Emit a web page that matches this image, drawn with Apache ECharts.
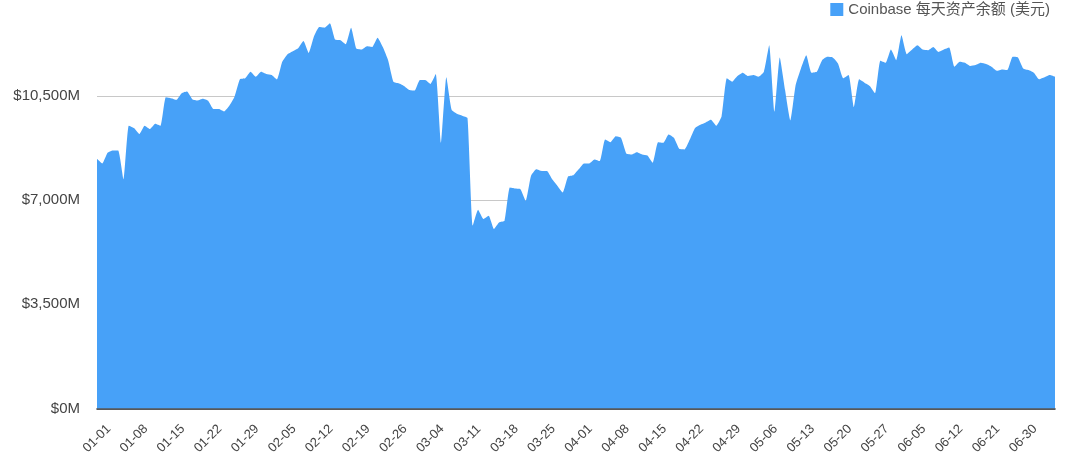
<!DOCTYPE html>
<html>
<head>
<meta charset="utf-8">
<script src="https://cdn.jsdelivr.net/npm/echarts@6/dist/echarts.min.js"></script>
<style>
html,body{margin:0;padding:0;background:#fff;}
#chart{width:1080px;height:457px;}
</style>
</head>
<body>
<div id="chart"></div>
<script>
var seriesName = 'Coinbase 每天资产余额 (美元)';

var categories = [
  '01-01','01-02','01-03','01-04','01-05','01-06','01-07','01-08','01-09','01-10','01-11','01-12','01-13','01-14','01-15','01-16',
  '01-17','01-18','01-19','01-20','01-21','01-22','01-23','01-24','01-25','01-26','01-27','01-28','01-29','01-30','01-31',
  '02-01','02-02','02-03','02-04','02-05','02-06','02-07','02-08','02-09','02-10','02-11','02-12','02-13','02-14','02-15',
  '02-16','02-17','02-18','02-19','02-20','02-21','02-22','02-23','02-24','02-25','02-26','02-27','02-28','02-29',
  '03-01','03-02','03-03','03-04','03-05','03-06','03-07','03-08','03-09','03-10','03-11','03-12','03-13','03-14','03-15',
  '03-16','03-17','03-18','03-19','03-20','03-21','03-22','03-23','03-24','03-25','03-26','03-27','03-28','03-29','03-30','03-31',
  '04-01','04-02','04-03','04-04','04-05','04-06','04-07','04-08','04-09','04-10','04-11','04-12','04-13','04-14','04-15',
  '04-16','04-17','04-18','04-19','04-20','04-21','04-22','04-23','04-24','04-25','04-26','04-27','04-28','04-29','04-30',
  '05-01','05-02','05-03','05-04','05-05','05-06','05-07','05-08','05-09','05-10','05-11','05-12','05-13','05-14','05-15',
  '05-16','05-17','05-18','05-19','05-20','05-21','05-22','05-23','05-24','05-25','05-26','05-27','05-28','05-29',
  '06-01','06-02','06-03','06-04','06-05','06-06','06-07','06-08','06-09','06-10','06-11','06-12',
  '06-15','06-16','06-17','06-18','06-19','06-20','06-21','06-22','06-23','06-24','06-25','06-26','06-29','06-30',
  '07-01','07-02','07-03','07-04','07-05','07-06'
];

// daily balance, millions of USD
var balances = [
  8390, 8233, 8590, 8667, 8667, 7700, 9500, 9420, 9220, 9500, 9390, 9567, 9500, 10456, 10422, 10367,
  10590, 10644, 10390, 10344, 10400, 10333, 10056, 10056, 9978, 10167, 10478, 11056, 11090, 11310, 11143,
  11310, 11233, 11200, 11050, 11643, 11900, 12000, 12100, 12343, 11943, 12500, 12810, 12790, 12943,
  12390, 12367, 12233, 12790, 12090, 12056, 12167, 12143, 12456, 12143, 11700, 10977, 10922, 10833, 10700,
  10677, 11033, 11033, 10900, 11233, 8922, 11122, 10033, 9900, 9833, 9756, 6143, 6677, 6367, 6477,
  6033, 6256, 6310, 7423, 7390, 7367, 6977, 7810, 8033, 7977, 7977, 7700, 7477, 7256, 7790, 7833,
  8033, 8233, 8233, 8367, 8310, 9033, 8943, 9143, 9090, 8567, 8533, 8610, 8533, 8500, 8256,
  8943, 8922, 9200, 9090, 8722, 8700, 9033, 9422, 9533, 9610, 9700, 9500, 9810, 11090, 10977,
  11167, 11277, 11167, 11200, 11143, 11310, 12200, 9978, 11790, 10700, 9678, 10867, 11423, 11867, 11277,
  11310, 11700, 11810, 11790, 11590, 11090, 11200, 10122, 11056, 10944, 10833, 10590, 11677, 11610,
  12056, 11700, 12533, 11900, 12056, 12200, 12056, 12033, 12143, 11977, 12056, 12123,
  11477, 11643, 11610, 11500, 11533, 11610, 11567, 11477, 11343, 11390, 11367, 11810, 11790, 11423,
  11367, 11277, 11056, 11122, 11200, 11143
];

var yTicks = [0, 3500, 7000, 10500];
var yMax = 13720;

var chart = echarts.init(document.getElementById('chart'), null, {renderer: 'canvas'});
chart.setOption({
  animation: false,
  backgroundColor: '#ffffff',
  color: ['#47A1F8'],
  textStyle: {fontFamily: 'Liberation Sans, Arial, Noto Sans CJK SC, sans-serif'},
  legend: {
    data: [{name: seriesName, icon: 'rect'}],
    right: 30,
    top: 2,
    padding: 0,
    itemWidth: 13,
    itemHeight: 13,
    itemGap: 10,
    textStyle: {fontSize: 15, color: '#555', fontFamily: 'Liberation Sans, Arial, Noto Sans CJK SC, sans-serif'}
  },
  grid: {left: 97, right: 25, top: 0, bottom: 44, containLabel: false},
  xAxis: {
    type: 'category',
    data: categories,
    boundaryGap: false,
    axisLine: {show: true, lineStyle: {color: '#222', width: 1.5}},
    axisTick: {show: false},
    splitLine: {show: false},
    axisLabel: {
      interval: 6,
      rotate: 45,
      align: 'center',
      verticalAlign: 'middle',
      margin: 30,
      fontSize: 13,
      color: '#444'
    }
  },
  yAxis: {
    type: 'value',
    min: 0,
    max: yMax,
    interval: 3500,
    axisLine: {show: false},
    axisTick: {show: false},
    splitLine: {show: true, showMaxLine: false, showMinLine: false, lineStyle: {color: '#c8c8c8', width: 1}},
    axisLabel: {
      margin: 17,
      fontSize: 15,
      color: '#444',
      showMaxLabel: false,
      formatter: function (v) {
        if (yTicks.indexOf(v) < 0) return '';
        return '$' + v.toLocaleString('en-US') + 'M';
      }
    }
  },
  series: [{
    name: seriesName,
    type: 'line',
    data: balances,
    smooth: 0.15,
    symbol: 'none',
    lineStyle: {width: 0},
    areaStyle: {color: '#47A1F8', opacity: 1}
  }]
});
</script>
</body>
</html>
